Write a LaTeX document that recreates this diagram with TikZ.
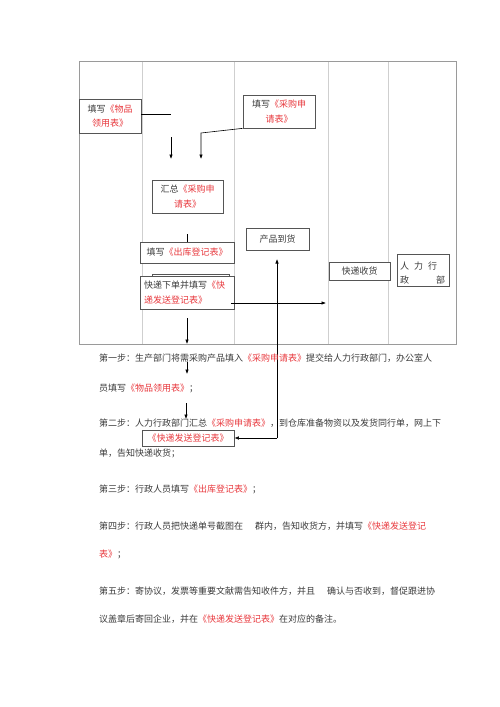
\documentclass[tikz,border=0pt]{standalone}
\usepackage{fontspec}
\setmainfont{Noto Sans CJK SC}
\usetikzlibrary{arrows.meta}
\definecolor{txt}{HTML}{3A3A3A}
\definecolor{rd}{HTML}{E8383D}
\definecolor{boxc}{HTML}{555555}
\definecolor{lane}{HTML}{CFCFCF}
\definecolor{frm}{HTML}{9A9A9A}
\newcommand{\rf}[1]{{\color{rd}#1}}
\tikzset{
  box/.style={draw=boxc, line width=0.7pt, fill=white, inner sep=0pt, text=txt,
    font=\fontsize{9}{14.5}\selectfont},
  para/.style={anchor=west, inner sep=0pt, text=txt, font=\fontsize{9}{11}\selectfont},
  conn/.style={draw=black, line width=0.6pt},
  arr/.style={conn, -{Latex[length=4.5pt,width=3.5pt]}}
}
\begin{document}
\begin{tikzpicture}[x=1pt,y=-1pt]
\useasboundingbox (0,0) rectangle (500,707);
% lanes
\draw[lane, line width=0.8pt] (142,61) -- (142,344) (234,61) -- (234,344)
  (328,61) -- (328,344) (388,61) -- (388,344);
\draw[frm, line width=0.8pt] (79,61) rectangle (456,344);
% boxes
\node[box, minimum width=62pt, minimum height=34pt, align=center] (wp) at (110,116)
  {填写\rf{《物品}\\\rf{领用表》}};
\node[box, minimum width=72pt, minimum height=33pt, align=center] (cg) at (279,111.5)
  {填写\rf{《采购申}\\\rf{请表》}};
\node[box, minimum width=71pt, minimum height=33pt, align=center] (hz) at (187.5,196.5)
  {汇总\rf{《采购申}\\\rf{请表》}};
\node[box, minimum width=94pt, minimum height=21pt] (ck) at (187,252.5)
  {填写\rf{《出库登记表》}};
\draw[boxc, line width=0.7pt] (152,290) -- (152,274) -- (229,274) -- (229,290);
\node[box, minimum width=94pt, minimum height=33pt, text width=86pt, align=left] (kd) at (187,292.5)
  {快递下单并填写\rf{《快}\\\rf{递发送登记表》}};
\node[box, minimum width=63pt, minimum height=22pt] (dh) at (277.5,239)
  {产品到货};
\node[box, minimum width=61pt, minimum height=18pt] (sh) at (359.5,271)
  {快递收货};
\node[box, minimum width=52pt, minimum height=32pt] (rl) at (423,270) {};
\node[para] (r1) at (400,266) {人};
\node[para] (r2) at (414,266) {力};
\node[para] (r3) at (428,266) {行};
\node[para] (r4) at (400,280) {政};
\node[para] (r5) at (436,280) {部};
\node[box, minimum width=92pt, minimum height=16pt] (kd2) at (188,438)
  {\rf{《快递发送登记表》}};
% connectors
\coordinate (c1) at (171,114);
\coordinate (c2) at (171,137);
\coordinate (c3) at (171,159);
\draw[conn] (wp.east |- c1) -- (c1);
\draw[arr] (c2) -- (c3);
\coordinate (c4) at (201,133);
\coordinate (c5) at (201,159);
\draw[arr] (cg.south west) -- (c4) -- (c5);
\coordinate (c6) at (187,234);
\draw[conn] (c6) -- (c6 |- ck.north);
\coordinate (c7) at (231,303);
\coordinate (c8) at (326,303);
\draw[arr] (c7) -- (c8);
\coordinate (c9) at (187,318);
\coordinate (c10) at (187,344);
\draw[arr] (c9) -- (c10);
\coordinate (c11) at (187,362);
\coordinate (c12) at (187,374);
\draw[arr] (c11) -- (c12);
\coordinate (c13) at (186,403);
\coordinate (c14) at (186,419);
\draw[arr] (c13) -- (c14);
\coordinate (c15) at (277,438);
\draw[arr] (c15) -- (kd2.east);
\draw[arr] (c15) -- (277,259);
% paragraphs
\node[para] (p1) at (99,358) {第一步：生产部门将需采购产品填入\rf{《采购申请表》}提交给人力行政部门，办公室人};
\node[para] (p2) at (99,388) {员填写\rf{《物品领用表》}；};
\node[para] (p3) at (99,423) {第二步：人力行政部门汇总\rf{《采购申请表》}，到仓库准备物资以及发货同行单，网上下};
\node[para] (p4) at (99,453) {单，告知快递收货；};
\node[para] (p5) at (99,489) {第三步：行政人员填写\rf{《出库登记表》}；};
\node[para] (p6) at (99,526) {第四步：行政人员把快递单号截图在\hspace{12pt}群内，告知收货方，并填写\rf{《快递发送登记}};
\node[para] (p7) at (99,554) {\rf{表》}；};
\node[para] (p8) at (99,591) {第五步：寄协议，发票等重要文献需告知收件方，并且\hspace{12pt}确认与否收到，督促跟进协};
\node[para] (p9) at (99,619) {议盖章后寄回企业，并在\rf{《快递发送登记表》}在对应的备注。};
\end{tikzpicture}
\end{document}
